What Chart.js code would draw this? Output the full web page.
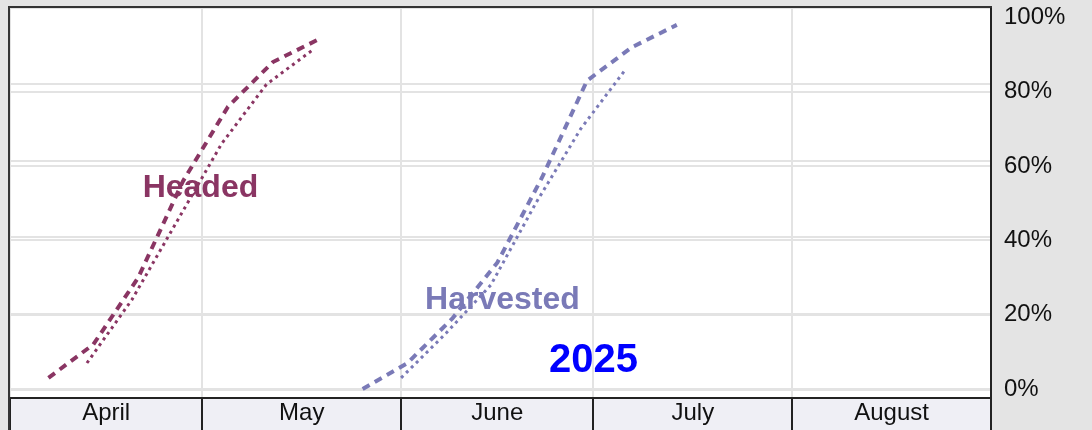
<!DOCTYPE html>
<html>
<head>
<meta charset="utf-8">
<script src="https://cdn.jsdelivr.net/npm/chart.js@4"></script>
<style>
  html, body { margin: 0; padding: 0; background: #e4e4e4; }
  canvas { display: block; }
</style>
</head>
<body>
<canvas id="grafico" width="1092" height="430"></canvas>
<script>
// dias contados desde el 1 de abril
const meses = ['April', 'May', 'June', 'July', 'August'];
const limitesMes = [0, 30, 61, 91, 122, 153];
const ticksY = [0, 20, 40, 60, 80, 100];

const diasEspigado = [6, 13, 20, 27, 34, 41, 48];
const espigado2025 = [3, 12, 30, 56, 76, 88, 94];
const diasEspigadoProm = [12, 19, 26, 33, 40, 47];
const espigadoProm = [7, 24, 45, 66, 82, 91];

const diasCosecha = [55, 62, 69, 76, 83, 90, 97, 104];
const cosecha2025 = [0, 7, 19, 34, 57, 83, 92, 98];
const diasCosechaProm = [61, 68, 75, 82, 89, 96];
const cosechaProm = [3, 15, 28, 50, 70, 86];

const colorEspigado = '#8a3563';
const colorCosecha = '#7a7ab7';
const fuente = "'Liberation Sans', Arial, sans-serif";

const medios = limitesMes.slice(0, -1).map((d, i) => (d + limitesMes[i + 1]) / 2);

// textos sobre el grafico (x en dias, y en %)
const etiquetas = [
  { texto: 'Headed', x: 29.7, y: 51.7, color: colorEspigado, size: 32 },
  { texto: 'Harvested', x: 76.8, y: 21.5, color: colorCosecha, size: 32 },
  { texto: '2025', x: 91.0, y: 4.6, color: '#0000ff', size: 40 }
];

function puntos(dias, valores) {
  return dias.map((d, i) => ({ x: d, y: valores[i] }));
}

function esLimite(v) {
  return limitesMes.indexOf(v) >= 0;
}

function sinRelleno(s) {
  s.paddingTop = 0;
  s.paddingBottom = 0;
  s.paddingLeft = 0;
  s.paddingRight = 0;
}

const fondo = {
  id: 'fondo',
  beforeDraw(chart) {
    const { ctx, chartArea: a, width, height } = chart;
    ctx.save();
    ctx.fillStyle = '#e4e4e4';
    ctx.fillRect(0, 0, width, height);
    ctx.fillStyle = '#ffffff';
    ctx.fillRect(a.left, a.top, a.right - a.left, a.bottom - a.top);
    ctx.fillStyle = '#efeff5';
    ctx.fillRect(a.left, a.bottom, a.right - a.left, height - a.bottom);
    ctx.restore();
  },
  beforeDatasetsDraw(chart) {
    const { ctx, scales } = chart;
    ctx.save();
    ctx.textAlign = 'center';
    ctx.textBaseline = 'alphabetic';
    etiquetas.forEach(e => {
      ctx.font = 'bold ' + e.size + 'px ' + fuente;
      ctx.fillStyle = e.color;
      ctx.fillText(e.texto, scales.x.getPixelForValue(e.x), scales.y.getPixelForValue(e.y));
    });
    ctx.restore();
  },
  afterDraw(chart) {
    const { ctx, chartArea: a, height } = chart;
    ctx.save();
    ctx.strokeStyle = '#333';
    ctx.lineWidth = 2;
    ctx.beginPath();
    ctx.moveTo(a.left - 1, height);
    ctx.lineTo(a.left - 1, a.top - 1);
    ctx.lineTo(a.right + 1, a.top - 1);
    ctx.stroke();
    ctx.restore();
  }
};

const linea = (datos, color, punteada) => ({
  data: datos,
  borderColor: color,
  borderWidth: punteada ? 3 : 4,
  borderDash: punteada ? [3, 4] : [8, 6],
  pointRadius: 0,
  tension: 0,
  fill: false,
  xAxisID: 'x',
  yAxisID: 'y'
});

new Chart(document.getElementById('grafico').getContext('2d'), {
  type: 'line',
  data: {
    datasets: [
      linea(puntos(diasEspigado, espigado2025), colorEspigado, false),
      linea(puntos(diasEspigadoProm, espigadoProm), colorEspigado, true),
      linea(puntos(diasCosecha, cosecha2025), colorCosecha, false),
      linea(puntos(diasCosechaProm, cosechaProm), colorCosecha, true)
    ]
  },
  options: {
    responsive: false,
    animation: false,
    layout: { padding: { left: 10, top: 8, right: 0, bottom: 0 } },
    plugins: { legend: { display: false }, tooltip: { enabled: false } },
    scales: {
      x: {
        type: 'linear',
        position: 'bottom',
        min: 0,
        max: 153,
        afterBuildTicks(s) {
          s.ticks = limitesMes.concat(medios).sort((a, b) => a - b).map(v => ({ value: v }));
        },
        afterFit(s) { s.height = 32; sinRelleno(s); },
        grid: {
          color: c => (c.tick && esLimite(c.tick.value)) ? '#e3e3e3' : 'rgba(0,0,0,0)',
          tickColor: c => (c.tick && esLimite(c.tick.value)) ? '#222' : 'rgba(0,0,0,0)',
          lineWidth: 2,
          tickLength: 32
        },
        border: { display: true, color: '#222', width: 2 },
        ticks: {
          autoSkip: false,
          maxRotation: 0,
          padding: -31,
          color: '#111',
          font: { family: fuente, size: 24 },
          callback: v => {
            const i = medios.indexOf(v);
            return i >= 0 ? meses[i] : '';
          }
        }
      },
      y: {
        type: 'linear',
        position: 'right',
        min: -2.42,
        max: 102.55,
        afterBuildTicks(s) { s.ticks = ticksY.map(v => ({ value: v })); },
        afterFit(s) { s.width = 101; sinRelleno(s); },
        grid: {
          color: c => (c.tick && c.tick.value === 100) ? 'rgba(0,0,0,0)' : '#e3e3e3',
          lineWidth: 2,
          drawTicks: false
        },
        border: { display: true, color: '#222', width: 2 },
        ticks: {
          padding: 13,
          color: '#111',
          font: { family: fuente, size: 24 },
          callback: v => v + '%'
        }
      },
      y2: {
        type: 'linear',
        position: 'left',
        min: -2.09,
        max: 100,
        afterBuildTicks(s) { s.ticks = ticksY.map(v => ({ value: v })); },
        afterFit(s) { s.width = 0; sinRelleno(s); },
        grid: { color: '#e3e3e3', lineWidth: 2, drawTicks: false },
        border: { display: false },
        ticks: { display: false }
      }
    }
  },
  plugins: [fondo]
});
</script>
</body>
</html>
